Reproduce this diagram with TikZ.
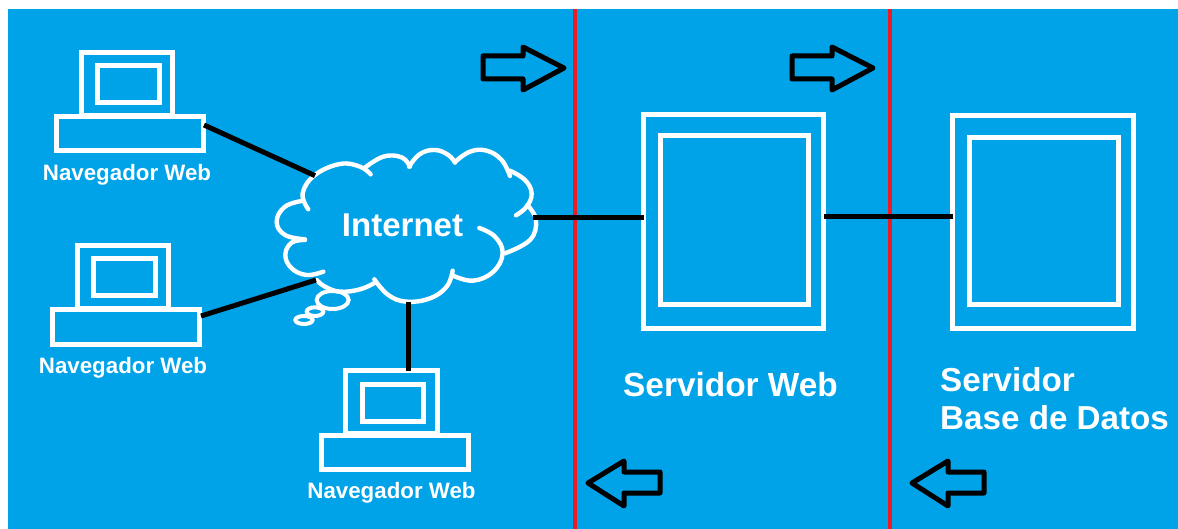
\documentclass[tikz,border=0pt]{standalone}
\usepackage{fontspec}
\setmainfont{Liberation Sans}
\definecolor{bgblue}{HTML}{00A2E8}
\definecolor{redline}{HTML}{ED1C24}
\tikzset{
  wire/.style={draw=white,line width=5pt,fill=none,inner sep=0pt,outer sep=0pt},
  srv/.style={draw=white,line width=5pt,fill=none,inner sep=0pt,outer sep=0pt},
  link/.style={draw=black,line width=5pt},
  blockarrow/.style={draw=black,line width=5pt,line join=round},
  divider/.style={draw=redline,line width=4.2pt},
  cloudline/.style={draw=white,line width=4.4pt,line cap=round},
  lab/.style={text=white,font=\bfseries,inner sep=0pt,anchor=center},
  pcbase/.style={wire,minimum width=147pt,minimum height=34pt},
  pcmon/.style={wire,minimum width=91.5pt,minimum height=63pt},
  pcscr/.style={wire,minimum width=61.5pt,minimum height=37pt},
}
\newcommand{\pc}[4]{%
  \begin{scope}[shift={(#1,#2)}]
    \node[pcmon] (#3m) at (127.25,84) {};
    \node[pcscr] (#3s) at (128.75,84.5) {};
    \node[pcbase] (#3) at (130.5,134) {};
    \node[lab,font=\bfseries\fontsize{#4}{#4}\selectfont] (#3l) at (127.5,174.5) {Navegador Web};
  \end{scope}}
\begin{document}
\begin{tikzpicture}[x=1pt,y=-1pt]
\useasboundingbox (0,0) rectangle (1178,529);
\fill[white] (0,0) rectangle (1178,529);
\fill[bgblue] (8,9) rectangle (1178,529);

% dividers
\coordinate (d1t) at (575,9); \coordinate (d1b) at (575,529);
\coordinate (d2t) at (890.2,9); \coordinate (d2b) at (890.2,529);
\draw[divider] (d1t) -- (d1b);
\draw[divider] (d2t) -- (d2b);

% computers
\pc{-0.5}{0}{pca}{22.3}
\pc{-4.5}{193}{pcb}{22.3}
\pc{264}{318}{pcc}{22.3}

% cloud
\begin{scope}[shift={(260,140)},x=0.3333pt,y=-0.3333pt]
  \draw[cloudline] plot[smooth,tension=0.7] coordinates {(145,208) (128,160) (165,105) (240,72) (300,80) (332,103)};
  \draw[cloudline] plot[smooth,tension=0.7] coordinates {(312,85) (370,50) (425,52) (450,80)};
  \draw[cloudline] plot[smooth,tension=0.7] coordinates {(447,80) (480,42) (525,30) (565,45) (585,68)};
  \draw[cloudline] plot[smooth,tension=0.7] coordinates {(585,66) (630,35) (680,32) (725,60) (750,108)};
  \draw[cloudline] plot[smooth,tension=0.7] coordinates {(750,92) (795,120) (815,160) (800,200) (768,226)};
  \draw[cloudline] plot[smooth,tension=0.7] coordinates {(802,195) (828,240) (810,300) (735,340)};
  \draw[cloudline] plot[smooth,tension=0.7] coordinates {(658,264) (705,290) (728,340) (700,395) (640,422) (582,408)};
  \draw[cloudline] plot[smooth,tension=0.7] coordinates {(578,392) (560,440) (510,475) (440,485) (385,465) (343,418)};
  \draw[cloudline] plot[smooth,tension=0.7] coordinates {(345,428) (300,448) (240,455) (195,440) (170,420)};
  \draw[cloudline] plot[smooth,tension=0.7] coordinates {(190,395) (140,405) (95,385) (76,345) (95,308) (135,300)};
  \draw[cloudline] plot[smooth,tension=0.7] coordinates {(135,298) (75,285) (50,245) (75,200) (130,182)};
  \draw[white,line width=4pt] (218,480) ellipse [x radius=48,y radius=27];
  \draw[white,line width=4pt] (165,515) ellipse [x radius=25,y radius=13];
  \draw[white,line width=4pt] (132,540) ellipse [x radius=26,y radius=12];
  \coordinate (cloudNW) at (165,107);
  \coordinate (cloudSW) at (168,420);
  \coordinate (cloudS) at (447,485);
  \coordinate (cloudE) at (818,232);
\end{scope}
\node[lab,font=\bfseries\fontsize{33}{33}\selectfont] (inet) at (402.5,225) {Internet};

% servers
\node[srv,minimum width=180pt,minimum height=214pt] (web) at (733.5,222) {};
\node[srv,minimum width=148pt,minimum height=169pt] (webi) at (734,220.5) {};
\node[srv,minimum width=181pt,minimum height=213pt] (db) at (1043,222.5) {};
\node[srv,minimum width=149pt,minimum height=167pt] (dbi) at (1043.5,221.5) {};
\node[lab,font=\bfseries\fontsize{33.4}{33.4}\selectfont] (webl) at (730.5,385) {Servidor Web};
\node[lab,font=\bfseries\fontsize{33.2}{38}\selectfont,anchor=north west,align=left] (dbl) at (940,367) {Servidor\\[0pt]Base de Datos};

% links
\coordinate (pcaE) at (204,125);
\coordinate (pcbE) at (201,316);
\draw[link] (pcaE) -- (cloudNW);
\draw[link] (pcbE) -- (cloudSW);
\draw[link] (cloudS) -- (pccm.north -| cloudS);
\draw[link] (cloudE) -- (web.west |- cloudE);
\draw[link] (web.east |- 0,216.5) -- (db.west |- 0,216.5);

% block arrows
\draw[blockarrow] (483,56) -- (523,56) -- (523,47) -- (564,68) -- (523,90) -- (523,79) -- (483,79) -- cycle;
\draw[blockarrow] (792,56) -- (832,56) -- (832,47) -- (873,68) -- (832,90) -- (832,79) -- (792,79) -- cycle;
\draw[blockarrow] (588,483) -- (624,461) -- (624,472) -- (660,472) -- (660,493) -- (624,493) -- (624,506) -- cycle;
\draw[blockarrow] (912,483) -- (948,461) -- (948,472) -- (984,472) -- (984,493) -- (948,493) -- (948,506) -- cycle;
\end{tikzpicture}
\end{document}
